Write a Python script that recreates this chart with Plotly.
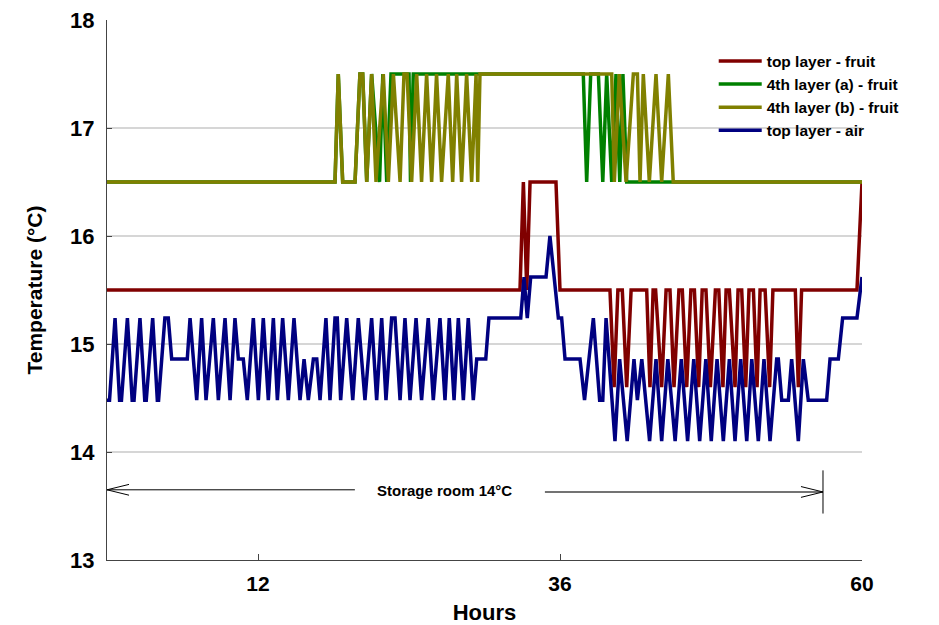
import plotly.graph_objects as go

# ---------------- data (hours, °C) ----------------
fruit_top_h = [0, 32.82, 33.09, 33.36, 33.62, 35.68, 36.0, 39.97, 40.3, 40.6, 40.95, 41.3, 41.65, 42.89,
               43.15, 43.4, 43.6, 44.08, 44.43, 44.74, 45.06, 45.45, 45.72, 46.07, 46.4, 46.68, 47.02,
               47.3, 47.6, 47.95, 48.35, 48.62, 48.95, 49.2, 49.46, 49.91, 50.15, 50.44, 50.76, 51.02,
               51.37, 51.66, 51.9, 52.3, 52.66, 52.92, 54.7, 54.94, 55.2, 59.6, 60]
fruit_top_t = [15.5, 15.5, 16.5, 15.5, 16.5, 16.5, 15.5, 15.5, 14.6, 15.5, 15.5, 14.6, 15.5, 15.5,
               14.6, 15.5, 15.5, 14.6, 15.5, 15.5, 14.6, 15.5, 15.5, 14.6, 15.5, 15.5, 14.6,
               15.5, 15.5, 14.6, 15.5, 15.5, 14.6, 15.5, 15.5, 14.6, 15.5, 15.5, 14.6, 15.5,
               15.5, 14.6, 15.5, 15.5, 14.6, 15.5, 15.5, 14.6, 15.5, 15.5, 16.5]

fruit_4a_h = [0, 18.12, 18.38, 18.73, 19.71, 20.1, 20.32, 20.64, 21.03, 21.66, 21.92, 22.23, 22.57,
              24.0, 24.12, 24.34, 37.85, 38.12, 38.44, 39.05, 39.4, 39.71, 40.11, 40.45, 40.75,
              41.0, 41.3, 60]
fruit_4a_t = [16.5, 16.5, 17.5, 16.5, 16.5, 17.5, 17.5, 16.5, 17.5, 16.5, 17.5, 16.5, 17.5,
              17.5, 16.5, 17.5, 17.5, 16.5, 17.5, 17.5, 16.5, 17.5, 16.5, 17.5, 16.5,
              17.5, 16.5, 16.5]

fruit_4b_h = [0, 18.12, 18.38, 18.73, 19.71, 20.1, 20.32, 20.64, 21.03, 21.38, 21.96, 22.36, 22.76,
              23.29, 23.6, 23.85, 24.21, 24.61, 25.0, 25.4, 25.8, 26.19, 26.59, 27.12, 27.47, 27.79,
              28.18, 28.58, 28.98, 29.33, 29.46, 29.64, 40.11, 40.32, 40.71, 41.25, 41.83, 42.15,
              42.36, 42.62, 43.1, 43.63, 44.08, 44.61, 45.0, 60]
fruit_4b_t = [16.5, 16.5, 17.5, 16.5, 16.5, 17.5, 17.5, 16.5, 17.5, 16.5, 17.5, 16.5, 17.5,
              16.5, 17.5, 17.5, 16.5, 17.5, 16.5, 17.5, 16.5, 17.5, 16.5, 17.5, 16.5, 17.5,
              16.5, 17.5, 16.5, 17.5, 16.5, 17.5, 17.5, 16.5, 17.5, 16.5, 17.5, 17.5,
              16.5, 17.5, 16.5, 17.5, 16.5, 17.5, 16.5, 16.5]

air_top_h = [0, 0.2, 0.64, 1.0, 1.15, 1.62, 2.0, 2.15, 2.62, 3.0, 3.12, 3.63, 4.0, 4.1, 4.6, 4.87,
             5.14, 6.38, 6.6, 7.13, 7.52, 7.87, 8.45, 8.85, 9.38, 9.78, 10.17, 10.44, 10.83, 11.15,
             11.63, 12.03, 12.42, 12.82, 13.22, 13.54, 13.96, 14.41, 14.86, 15.34, 15.66, 16.0,
             16.4, 16.67, 16.93, 17.4, 17.72, 18.12, 18.3, 18.57, 19.05, 19.53, 19.97, 20.5,
             21.03, 21.43, 21.83, 22.17, 22.62, 22.89, 23.29, 23.68, 24.08, 24.56, 25.0, 25.53,
             25.93, 26.46, 26.86, 27.2, 27.58, 27.92, 28.32, 28.71, 29.11, 29.38, 30.1, 30.35,
             32.88, 33.14, 33.4, 33.67, 34.89, 35.2, 35.87, 36.13, 36.4, 37.59, 37.95, 38.65,
             39.15, 39.4, 39.66, 40.37, 40.74, 41.34, 41.88, 42.15, 42.5, 43.12, 43.63, 44.08,
             44.57, 45.15, 45.64, 46.14, 46.63, 47.1, 47.59, 48.02, 48.48, 48.98, 49.46, 49.91,
             50.36, 50.84, 51.24, 51.76, 52.21, 52.69, 53.22, 53.35, 53.62, 54.15, 54.41, 54.94,
             55.34, 55.73, 57.19, 57.46, 58.12, 58.46, 59.6, 60.0]
air_top_t = [14.48, 14.48, 15.24, 14.48, 14.48, 15.24, 14.48, 14.48, 15.24, 14.48, 14.48, 15.24, 14.48, 14.48, 15.24, 15.24,
             14.86, 14.86, 15.24, 14.48, 15.24, 14.48, 15.24, 14.48, 15.24, 14.48, 15.24, 14.86, 14.86, 14.48,
             15.24, 14.48, 15.24, 14.48, 15.24, 14.48, 15.24, 14.48, 15.24, 14.48, 14.86, 14.48,
             14.86, 14.86, 14.48, 15.24, 14.48, 15.24, 15.24, 14.48, 15.24, 14.48, 15.24, 14.48,
             15.24, 14.48, 15.24, 14.48, 15.24, 15.24, 14.48, 15.24, 14.48, 15.24, 14.48, 15.24,
             14.48, 15.24, 14.48, 15.24, 14.48, 15.24, 14.48, 15.24, 14.48, 14.86, 14.86, 15.24,
             15.24, 15.62, 15.24, 15.62, 15.62, 16.0, 15.24, 15.24, 14.86, 14.86, 14.48, 15.24,
             14.48, 14.48, 15.24, 14.1, 14.86, 14.1, 14.86, 14.48, 14.86, 14.1, 14.86, 14.1,
             14.86, 14.1, 14.86, 14.1, 14.86, 14.1, 14.86, 14.1, 14.86, 14.1, 14.86, 14.1,
             14.86, 14.1, 14.86, 14.1, 14.86, 14.1, 14.86, 14.86, 14.48, 14.48, 14.86, 14.1,
             14.86, 14.48, 14.48, 14.86, 14.86, 15.24, 15.24, 15.62]

series_names = ["top layer - fruit", "4th layer (a) - fruit", "4th layer (b) - fruit", "top layer - air"]
series_colors = ["#800000", "#008000", "#808000", "#000080"]
x_ticks = [12, 36, 60]
y_ticks = [13, 14, 15, 16, 17, 18]
room_label = "Storage room 14°C"
room_temp_line = 13.65
room_end_h = 56.9

FONT = "Liberation Sans, Arial, sans-serif"

fig = go.Figure()
for xs, ys, name, col in zip(
        [fruit_top_h, fruit_4a_h, fruit_4b_h, air_top_h],
        [fruit_top_t, fruit_4a_t, fruit_4b_t, air_top_t],
        series_names, series_colors):
    fig.add_trace(go.Scatter(x=xs, y=ys, mode="lines", name=name,
                             line=dict(color=col, width=3.5)))

# storage-room arrow (decoration)
shapes = []
ln = dict(color="#000000", width=1)
shapes.append(dict(type="line", xref="x", yref="y", x0=0, x1=19.7, y0=room_temp_line, y1=room_temp_line, line=ln))
shapes.append(dict(type="path", xref="x", yref="y",
                   path=f"M 1.75 {room_temp_line+0.05} L 0 {room_temp_line} L 1.75 {room_temp_line-0.05}", line=ln))
shapes.append(dict(type="line", xref="x", yref="y", x0=34.8, x1=room_end_h, y0=room_temp_line-0.02, y1=room_temp_line-0.02,
                   line=dict(color="#444444", width=1.5)))
shapes.append(dict(type="path", xref="x", yref="y",
                   path=f"M {room_end_h-1.75} {room_temp_line+0.03} L {room_end_h} {room_temp_line-0.02} L {room_end_h-1.75} {room_temp_line-0.07}", line=ln))
shapes.append(dict(type="line", xref="x", yref="y", x0=room_end_h, x1=room_end_h, y0=13.43, y1=13.83, line=ln))

fig.update_layout(
    width=931, height=617,
    margin=dict(l=99, r=77, t=12, b=65, autoexpand=False),
    paper_bgcolor="white", plot_bgcolor="white",
    font=dict(family=FONT, color="black"),
    shapes=shapes,
    showlegend=True,
    legend=dict(x=0.8036, y=0.955, xanchor="left", yanchor="top",
                font=dict(family=FONT, size=15.5, color="black", weight="bold"),
                bgcolor="rgba(0,0,0,0)", itemwidth=43, tracegroupgap=0),
    annotations=[dict(x=26.8, y=room_temp_line - 0.01, xref="x", yref="y", text=room_label, showarrow=False,
                      font=dict(family=FONT, size=15, color="black", weight="bold"))],
)
fig.update_xaxes(range=[0, 60], tickvals=x_ticks, ticktext=[str(v) for v in x_ticks],
                 showgrid=False, zeroline=False, showline=True, linecolor="#444444", linewidth=1,
                 ticks="inside", ticklen=6, tickcolor="#444444", ticklabelstandoff=5,
                 ticklabeloverflow="allow",
                 tickfont=dict(family=FONT, size=21, weight="bold"),
                 title=dict(text="Hours", font=dict(family=FONT, size=22, weight="bold"), standoff=10))
fig.update_yaxes(range=[13, 18], tickvals=y_ticks, showgrid=True, gridcolor="#d6d6d6", gridwidth=1.5,
                 zeroline=False, showline=True, linecolor="#444444", linewidth=1,
                 ticks="inside", ticklen=5, tickcolor="#444444", ticklabelstandoff=7,
                 ticklabeloverflow="allow",
                 tickfont=dict(family=FONT, size=22, weight="bold"),
                 title=dict(text="Temperature (°C)", font=dict(family=FONT, size=21, weight="bold"), standoff=21))

fig.write_html("out.html")
